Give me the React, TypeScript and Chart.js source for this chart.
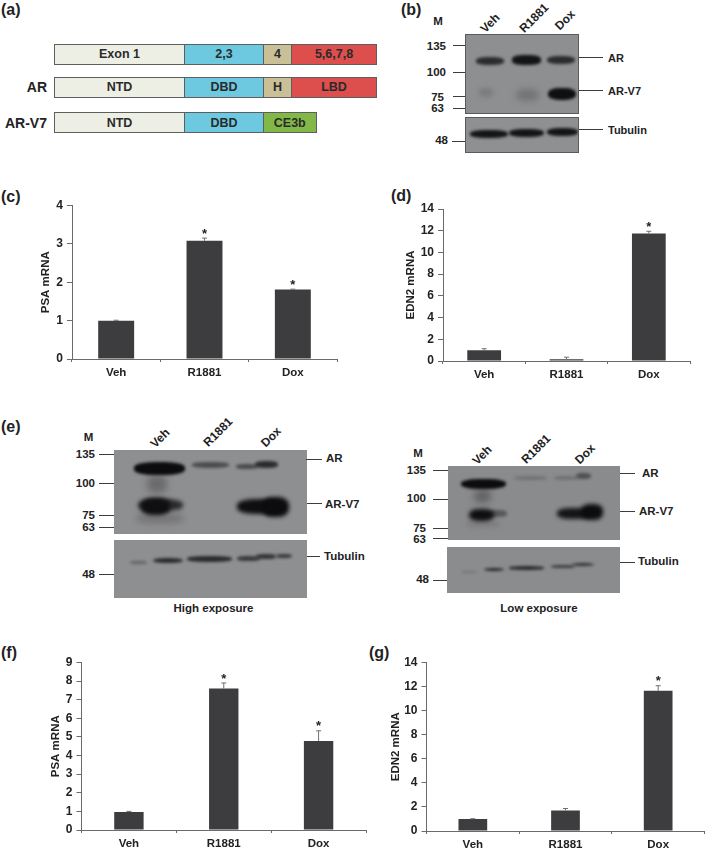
import React, { useEffect, useRef } from "react";
import { Chart, registerables } from "chart.js";

Chart.register(...registerables);

const categories = ["Veh", "R1881", "Dox"];
const psaHormone = [1, 3.08, 1.81];
const psaHormoneErr = [0.01, 0.07, 0.01];
const edn2Hormone = [1, 0.15, 11.75];
const edn2HormoneErr = [0.13, 0.2, 0.2];
const psaKnockdown = [0.97, 7.6, 4.78];
const psaKnockdownErr = [0.03, 0.3, 0.55];
const edn2Knockdown = [1, 1.7, 11.65];
const edn2KnockdownErr = [0.02, 0.17, 0.42];
const significantC = [false, true, true];
const significantD = [false, false, true];
const significantF = [false, true, true];
const significantG = [false, false, true];

const FONT = '"Liberation Sans", Arial, sans-serif';
const INK = "#222224";
const BAR = "#3d3d3f";
const AXIS = "#6a6a6a";

const errorBarPlugin = {
  id: "errorBars",
  afterDatasetsDraw(chart: any, _a: any, opts: any) {
    const { ctx } = chart;
    const x = chart.scales.x;
    const y = chart.scales.y;
    const vals = chart.data.datasets[0].data as number[];
    ctx.save();
    vals.forEach((v: number, i: number) => {
      const px = x.getPixelForValue(i);
      const top = y.getPixelForValue(v + opts.err[i]);
      ctx.strokeStyle = "#707072";
      ctx.lineWidth = 1;
      ctx.beginPath();
      ctx.moveTo(px, y.getPixelForValue(v));
      ctx.lineTo(px, top);
      ctx.moveTo(px - 2.5, top);
      ctx.lineTo(px + 2.5, top);
      ctx.stroke();
      if (opts.stars[i]) {
        ctx.fillStyle = INK;
        ctx.font = `bold 13px ${FONT}`;
        ctx.textAlign = "center";
        ctx.textBaseline = "middle";
        ctx.fillText("*", px, top - 4);
      }
    });
    ctx.restore();
  },
};

function BarPanel(props: any) {
  const ref = useRef<HTMLCanvasElement>(null);
  const { plot, titleX, title, values, err, stars, max, step, barRatio } = props;
  const canvasLeft = Math.floor(titleX - 7);
  const canvasTop = Math.floor(plot.top - 20);
  const canvasRight = Math.ceil(plot.right + 3);
  const canvasBottom = Math.ceil(plot.bottom + 22);
  const w = canvasRight - canvasLeft;
  const h = canvasBottom - canvasTop;
  useEffect(() => {
    const chart: any = new Chart(ref.current as HTMLCanvasElement, {
      type: "bar",
      data: {
        labels: categories,
        datasets: [
          {
            data: values,
            backgroundColor: BAR,
            borderWidth: 0,
            barPercentage: barRatio,
            categoryPercentage: 1,
          },
        ],
      },
      plugins: [errorBarPlugin],
      options: {
        animation: false,
        responsive: false,
        devicePixelRatio: 1,
        layout: {
          autoPadding: false,
          padding: { top: plot.top - canvasTop, right: canvasRight - plot.right, left: 0, bottom: 0 },
        },
        plugins: {
          legend: { display: false },
          tooltip: { enabled: false },
          errorBars: { err, stars },
        } as any,
        scales: {
          x: {
            grid: { offset: true, drawOnChartArea: false, tickLength: 3, tickColor: AXIS },
            border: { color: AXIS, width: 1 },
            ticks: { color: INK, font: { family: FONT, size: 11.5, weight: "bold" }, padding: 4, maxRotation: 0 },
            afterFit(s: any) {
              s.height = canvasBottom - plot.bottom;
            },
          },
          y: {
            min: 0,
            max,
            grid: { drawOnChartArea: false, tickLength: 5, tickColor: AXIS },
            border: { color: AXIS, width: 1 },
            ticks: { stepSize: step, color: INK, font: { family: FONT, size: 12, weight: "bold" }, padding: 4 },
            title: { display: true, text: title, color: INK, padding: 0, font: { family: FONT, size: 11.5, weight: "bold" } },
            afterFit(s: any) {
              s.width = plot.left - canvasLeft;
            },
          },
        },
      } as any,
    });
    const drift = chart.chartArea.top - (plot.top - canvasTop);
    if (Math.abs(drift) > 0.05) {
      chart.options.layout.padding.top = plot.top - canvasTop - drift;
      chart.update();
    }
    return () => chart.destroy();
  }, []);
  return (
    <canvas
      ref={ref}
      width={w}
      height={h}
      style={{ position: "absolute", left: canvasLeft, top: canvasTop, width: w, height: h }}
    />
  );
}

function Txt(p: any) {
  const { x, y, size = 11.5, align = "left", rot = 0, children, color = INK } = p;
  const tx = align === "left" ? "0" : align === "right" ? "-100%" : "-50%";
  return (
    <div
      style={{
        position: "absolute",
        left: x,
        top: y,
        transform: `translate(${tx},-50%)${rot ? ` rotate(${rot}deg)` : ""}`,
        font: `bold ${size}px ${FONT}`,
        color,
        whiteSpace: "nowrap",
        lineHeight: 1,
      }}
    >
      {children}
    </div>
  );
}

function Seg(p: any) {
  const { x0, x1, y0, y1, bg, text } = p;
  return (
    <div
      style={{
        position: "absolute",
        left: x0,
        top: y0,
        width: x1 - x0,
        height: y1 - y0,
        boxSizing: "border-box",
        background: bg,
        border: "1px solid #5e5e5e",
        font: `bold 12.5px ${FONT}`,
        color: "#2a2a2c",
        display: "flex",
        alignItems: "center",
        justifyContent: "center",
      }}
    >
      {text}
    </div>
  );
}

function HLine(p: any) {
  const { x0, x1, y } = p;
  return <div style={{ position: "absolute", left: x0, top: y - 0.5, width: x1 - x0, height: 1, background: "#3c3c3c" }} />;
}

function Blot(p: any) {
  const { x0, x1, y0, y1, bg, bands } = p;
  return (
    <div
      style={{
        position: "absolute",
        left: x0,
        top: y0,
        width: x1 - x0,
        height: y1 - y0,
        background: bg,
        overflow: "hidden",
        boxSizing: "border-box",
        border: p.border ? `1px solid ${p.border}` : "none",
      }}
    >
      {bands.map((b: any[], i: number) => (
        <div
          key={i}
          style={{
            position: "absolute",
            left: b[0] - x0,
            top: b[2] - y0,
            width: b[1] - b[0],
            height: b[3] - b[2],
            background: b[4],
            borderRadius: "40%",
            filter: `blur(${b[5] ?? 1.5}px)`,
          }}
        />
      ))}
    </div>
  );
}

const D = "#141416";
const M = "#2c2c2e";

export default function App() {
  return (
    <div style={{ position: "absolute", left: 0, top: 0, width: 708, height: 852, background: "#fff", overflow: "hidden", filter: "blur(0.3px)" }}>
      {/* panel letters */}
      <Txt x={1} y={10} size={16}>(a)</Txt>
      <Txt x={401} y={10} size={16}>(b)</Txt>
      <Txt x={1} y={197} size={16}>(c)</Txt>
      <Txt x={391} y={196} size={16}>(d)</Txt>
      <Txt x={1} y={427} size={16}>(e)</Txt>
      <Txt x={1} y={653} size={16}>(f)</Txt>
      <Txt x={369} y={653} size={16}>(g)</Txt>

      {/* (a) */}
      <Seg x0={54} x1={185} y0={43.5} y1={64.5} bg="#eeefe4" text="Exon 1" />
      <Seg x0={184} x1={264} y0={43.5} y1={64.5} bg="#6cc9e0" text="2,3" />
      <Seg x0={263} x1={292} y0={43.5} y1={64.5} bg="#c9c097" text="4" />
      <Seg x0={291} x1={377} y0={43.5} y1={64.5} bg="#dc4f4c" text="5,6,7,8" />
      <Seg x0={54} x1={185} y0={76.5} y1={98} bg="#eeefe4" text="NTD" />
      <Seg x0={184} x1={264} y0={76.5} y1={98} bg="#6cc9e0" text="DBD" />
      <Seg x0={263} x1={292} y0={76.5} y1={98} bg="#c9c097" text="H" />
      <Seg x0={291} x1={377} y0={76.5} y1={98} bg="#dc4f4c" text="LBD" />
      <Seg x0={54} x1={185} y0={112} y1={133} bg="#eeefe4" text="NTD" />
      <Seg x0={184} x1={264} y0={112} y1={133} bg="#6cc9e0" text="DBD" />
      <Seg x0={263} x1={316.5} y0={112} y1={133} bg="#82b847" text="CE3b" />
      <Txt x={47} y={86.5} size={14} align="right">AR</Txt>
      <Txt x={47} y={123} size={14} align="right">AR-V7</Txt>

      {/* (b) */}
      <Txt x={438} y={22} align="center">M</Txt>
      <Txt x={490} y={23} size={12} align="center" rot={-45}>Veh</Txt>
      <Txt x={534} y={18} size={12} align="center" rot={-45}>R1881</Txt>
      <Txt x={565} y={20} size={12} align="center" rot={-45}>Dox</Txt>
      <Blot x0={465} x1={579} y0={34} y1={113.5} bg="#8e8f91" border="#5a5a5c"
        bands={[
          [475, 503, 56, 63.5, M], [511, 540, 54, 63.5, D], [546, 574, 55, 63, M],
          [478, 492, 87, 96, "#7b7b7d", 2.5], [515, 538, 88, 100, "#747476", 3], [547, 575, 87, 99, "#0f0f11"],
        ]} />
      <Blot x0={465} x1={579} y0={116.5} y1={153} bg="#8f9092" border="#5a5a5c"
        bands={[[469, 507, 129, 137, D], [508, 543, 127.5, 136, D], [546, 577, 127, 135, D]]} />
      <HLine x0={453} x1={465} y={45} />
      <HLine x0={453} x1={465} y={72.5} />
      <HLine x0={453} x1={465} y={96} />
      <HLine x0={453} x1={465} y={108} />
      <HLine x0={452} x1={465} y={141.5} />
      <Txt x={446} y={46.5} align="right">135</Txt>
      <Txt x={446} y={73} align="right">100</Txt>
      <Txt x={444} y={97.5} align="right">75</Txt>
      <Txt x={444} y={109} align="right">63</Txt>
      <Txt x={448} y={141} align="right">48</Txt>
      <HLine x0={579} x1={603} y={57} />
      <HLine x0={579} x1={603} y={90.5} />
      <HLine x0={579} x1={603} y={129.5} />
      <Txt x={608} y={58} size={11}>AR</Txt>
      <Txt x={608} y={90.5} size={11}>AR-V7</Txt>
      <Txt x={608} y={129.5} size={11}>Tubulin</Txt>

      {/* (e) high */}
      <Txt x={88.5} y={438} align="center">M</Txt>
      <Txt x={160} y={438} size={12} align="center" rot={-45}>Veh</Txt>
      <Txt x={218} y={432} size={12} align="center" rot={-45}>R1881</Txt>
      <Txt x={271} y={437} size={12} align="center" rot={-45}>Dox</Txt>
      <Blot x0={114} x1={306.5} y0={449.5} y1={533.5} bg="#8e8f91"
        bands={[
          [147, 167, 475, 493, "#6a6a6c", 3.5], [136, 184, 513, 524, "#767678", 3],
          [134, 185, 462, 475, "#0c0c0e"], [192, 229, 461.5, 467.5, "#4c4c4e"], [236, 258, 464, 469, "#4a4a4c"], [255, 278, 461, 468, "#2c2c2e"],
          [138, 183, 499, 511, "#2a2a2c", 2], [141, 170, 498, 515, "#0f0f11", 2],
          [237, 280, 499, 514, "#0f0f11", 2], [262, 289, 497, 517, "#0c0c0e", 2],
        ]} />
      <Blot x0={114} x1={306.5} y0={540} y1={597.5} bg="#8e8f91"
        bands={[
          [130, 147, 561, 564, "#646466"], [153, 183, 557.5, 563, "#2b2b2d"], [187, 232, 555.5, 561.5, "#2b2b2d"],
          [237, 260, 556, 561, "#3a3a3c"], [256, 276, 553.5, 558.5, "#343436"], [276, 292, 553.5, 558, "#3a3a3c"],
        ]} />
      <HLine x0={99} x1={114} y={454.5} />
      <HLine x0={99} x1={114} y={483} />
      <HLine x0={99} x1={114} y={515.5} />
      <HLine x0={99} x1={114} y={527.5} />
      <HLine x0={99} x1={114} y={574.5} />
      <Txt x={95} y={455} align="right">135</Txt>
      <Txt x={95} y={484} align="right">100</Txt>
      <Txt x={95} y={516} align="right">75</Txt>
      <Txt x={95} y={527.5} align="right">63</Txt>
      <Txt x={95} y={575} align="right">48</Txt>
      <HLine x0={306} x1={322} y={459} />
      <HLine x0={307} x1={322} y={503.5} />
      <HLine x0={307} x1={320} y={556} />
      <Txt x={326} y={459}>AR</Txt>
      <Txt x={325} y={505}>AR-V7</Txt>
      <Txt x={324} y={556.5}>Tubulin</Txt>
      <Txt x={213.5} y={609} align="center">High exposure</Txt>

      {/* (e) low */}
      <Txt x={418} y={453.5} align="center">M</Txt>
      <Txt x={482} y={455} size={12} align="center" rot={-45}>Veh</Txt>
      <Txt x={536} y={449} size={12} align="center" rot={-45}>R1881</Txt>
      <Txt x={585} y={454} size={12} align="center" rot={-45}>Dox</Txt>
      <Blot x0={448} x1={620} y0={465.5} y1={540} bg="#8a8b8d"
        bands={[
          [474, 491, 489, 503, "#636365", 3.5], [466, 500, 521, 527, "#7a7a7c", 2.5],
          [461, 506, 478.5, 489, "#0c0c0e"], [514, 547, 475.5, 480, "#727274"], [554, 578, 476, 480, "#707072"], [576, 591, 473, 478.5, "#505052"],
          [488, 507, 510, 517, "#58585a", 1.5], [469, 494, 508.5, 521, "#0e0e10", 2],
          [557, 590, 507.5, 518.5, "#141416", 2], [581, 603, 504, 519.5, "#0c0c0e", 2],
        ]} />
      <Blot x0={447} x1={620} y0={547} y1={592.5} bg="#8b8c8e"
        bands={[
          [461, 477, 570.5, 573, "#737375"], [484, 504, 567.5, 571, "#29292b"], [509, 544, 565.5, 569.5, "#2b2b2d"],
          [551, 575, 564.5, 567.5, "#3e3e40"], [572, 594, 562.5, 566, "#333335"],
        ]} />
      <HLine x0={433} x1={448} y={470.5} />
      <HLine x0={433} x1={448} y={499} />
      <HLine x0={433} x1={448} y={528.5} />
      <HLine x0={433} x1={448} y={538} />
      <HLine x0={433} x1={447} y={580.5} />
      <Txt x={426} y={470.5} align="right">135</Txt>
      <Txt x={426} y={498.5} align="right">100</Txt>
      <Txt x={426} y={528.5} align="right">75</Txt>
      <Txt x={426} y={540} align="right">63</Txt>
      <Txt x={429} y={580} align="right">48</Txt>
      <HLine x0={620} x1={635} y={473} />
      <HLine x0={620} x1={635} y={511.5} />
      <HLine x0={620} x1={635} y={562.5} />
      <Txt x={642} y={473.5}>AR</Txt>
      <Txt x={639} y={512}>AR-V7</Txt>
      <Txt x={638} y={562}>Tubulin</Txt>
      <Txt x={539} y={609} align="center">Low exposure</Txt>

      {/* bar charts */}
      <BarPanel plot={{ left: 72, right: 337, top: 205.5, bottom: 359 }} titleX={46.5} title="PSA mRNA"
        values={psaHormone} err={psaHormoneErr} stars={significantC} max={4} step={1} barRatio={0.407} />
      <BarPanel plot={{ left: 443, right: 690, top: 209, bottom: 361 }} titleX={411} title="EDN2 mRNA"
        values={edn2Hormone} err={edn2HormoneErr} stars={significantD} max={14} step={2} barRatio={0.41} />
      <BarPanel plot={{ left: 81.5, right: 366, top: 662.5, bottom: 830 }} titleX={56.5} title="PSA mRNA"
        values={psaKnockdown} err={psaKnockdownErr} stars={significantF} max={9} step={1} barRatio={0.31} />
      <BarPanel plot={{ left: 426.5, right: 704.5, top: 662.5, bottom: 831 }} titleX={396.5} title="EDN2 mRNA"
        values={edn2Knockdown} err={edn2KnockdownErr} stars={significantG} max={14} step={2} barRatio={0.31} />
    </div>
  );
}
